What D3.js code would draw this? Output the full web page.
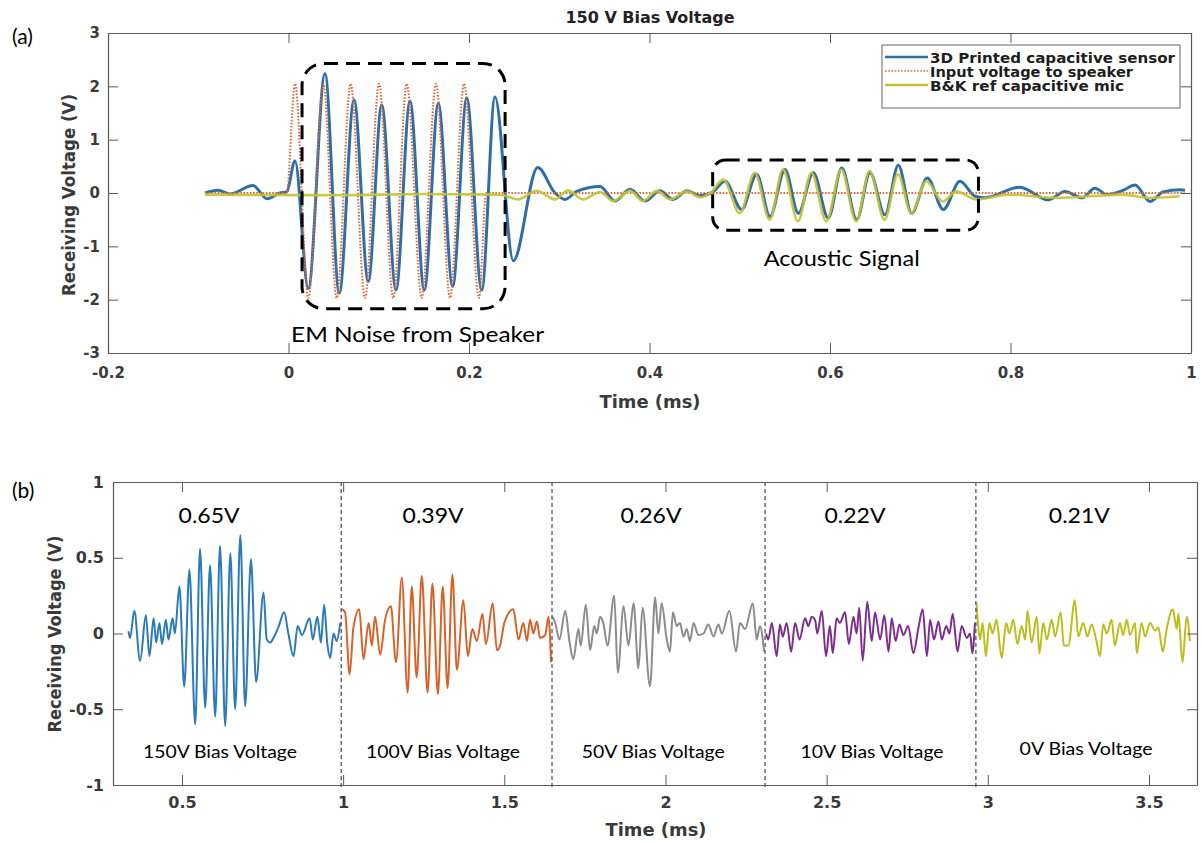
<!DOCTYPE html>
<html><head><meta charset="utf-8">
<script src="https://cdn.jsdelivr.net/npm/d3@7"></script>
<style>
body{margin:0;background:#fff;}
svg text{font-family:"DejaVu Sans",sans-serif;}
.ann{font-family:Lato,"Open Sans",sans-serif;fill:#000;}
</style></head><body>
<svg id="c" width="1202" height="843"></svg>
<script>
// ---------- DATA: panel (a) ----------
const titleA = "150 V Bias Voltage";
const xTicksA = [-0.2, 0, 0.2, 0.4, 0.6, 0.8, 1];
const xTickLabelsA = ["-0.2", "0", "0.2", "0.4", "0.6", "0.8", "1"];
const yTicksA = [-3, -2, -1, 0, 1, 2, 3];
const yTickLabelsA = ["-3", "-2", "-1", "0", "1", "2", "3"];
const seriesNamesA = ["3D Printed capacitive sensor", "Input voltage to speaker", "B&K ref capacitive mic"];

// [time (ms), voltage (V)]
const sensorA = [[-0.0925,0],[-0.078,0.05],[-0.065,-0.02],[-0.0393,0.14],[-0.0238,-0.11],[-0.0095,0],[-0.002,0.02],
 [0.0072,0.6],[0.0219,-1.79],[0.0404,2.24],[0.0563,-1.88],[0.0726,1.75],[0.0884,-1.66],[0.1033,1.65],[0.1191,-1.82],
 [0.1346,1.72],[0.1505,-1.82],[0.1660,1.68],[0.1819,-1.75],[0.1975,1.78],[0.2141,-1.82],[0.2288,1.80],[0.2491,-1.27],
 [0.2761,0.48],[0.2953,0.0],[0.3064,-0.12],[0.3193,0.03],[0.3452,0.12],[0.3618,-0.15],[0.3784,0.07],[0.3950,-0.15],
 [0.4116,0.04],[0.4260,-0.12],[0.4416,0.04],[0.456,-0.05],[0.470,0.02],[0.4837,0.22],[0.5021,-0.31],[0.5188,0.35],
 [0.5335,-0.44],[0.5501,0.44],[0.5649,-0.38],[0.5815,0.38],[0.5981,-0.47],[0.6130,0.47],[0.6296,-0.50],[0.6443,0.38],
 [0.6609,-0.41],[0.6757,0.52],[0.6905,-0.38],[0.7078,0.28],[0.7256,-0.31],[0.7440,0.22],[0.7607,-0.06],[0.7717,-0.09],
 [0.8105,0.11],[0.8416,-0.13],[0.8604,0.03],[0.8792,-0.09],[0.8936,0.09],[0.9069,-0.03],[0.9247,0.05],[0.9380,0.15],
 [0.9546,-0.16],[0.9690,0.02],[0.9879,0.06],[0.9934,0.05]];
const inputA = [[-0.0925,0],[-0.002,0],[0.0072,2.05],[0.0219,-1.97],[0.0386,2.05],[0.0534,-1.97],[0.0689,2.05],
 [0.0848,-1.97],[0.1003,2.05],[0.1161,-1.97],[0.1310,2.05],[0.1476,-1.97],[0.1634,2.05],[0.1790,-1.97],[0.1945,2.05],
 [0.2111,-1.97],[0.219,0],[0.993,0]];
const micA = [[-0.0925,-0.03],[0.05,-0.04],[0.15,-0.02],[0.234,-0.03],[0.2543,-0.12],[0.2753,0.04],[0.2953,-0.12],
 [0.3097,0.05],[0.3263,-0.12],[0.3452,0.02],[0.3596,-0.15],[0.3784,0.04],[0.3928,-0.15],[0.4083,0.04],[0.4227,-0.12],
 [0.4416,0.03],[0.456,-0.08],[0.4675,0.0],[0.4818,0.25],[0.5,-0.38],[0.5166,0.38],[0.5332,-0.50],[0.5479,0.44],
 [0.5645,-0.53],[0.5793,0.38],[0.5959,-0.53],[0.6125,0.44],[0.6291,-0.53],[0.6438,0.41],[0.6604,-0.50],[0.6752,0.35],
 [0.6900,-0.38],[0.7066,0.22],[0.7251,-0.16],[0.7399,0.03],[0.7620,-0.12],[0.7990,-0.03],[0.8507,-0.09],[0.9245,-0.03],
 [0.9541,-0.09],[0.9874,-0.06]];
// annotation boxes [t0, t1, vLow, vHigh] and labels [t, v, text]
const boxesA = [[0.015, 0.240, -2.17, 2.43], [0.470, 0.7645, -0.70, 0.62]];
const boxLabelsA = [[0.143, -2.80, "EM Noise from Speaker"], [0.613, -1.36, "Acoustic Signal"]];

// ---------- DATA: panel (b) ----------
const xTicksB = [0.5, 1, 1.5, 2, 2.5, 3, 3.5];
const xTickLabelsB = ["0.5", "1", "1.5", "2", "2.5", "3", "3.5"];
const yTicksB = [-1, -0.5, 0, 0.5, 1];
const yTickLabelsB = ["-1", "-0.5", "0", "0.5", "1"];
const biasLabelsB = ["150V Bias Voltage", "100V Bias Voltage", "50V Bias Voltage", "10V Bias Voltage", "0V Bias Voltage"];
const peakLabelsB = ["0.65V", "0.39V", "0.26V", "0.22V", "0.21V"];
const peakLabelTimesB = [0.584, 1.279, 1.955, 2.588, 3.284];
const biasLabelTimesB = [0.618, 1.310, 1.962, 2.641, 3.305];
const separatorsB = [0.994, 1.648, 2.309, 2.963];
const bias150 = [[0.334,0.015],[0.339,-0.03],[0.352,0.15],[0.370,-0.18],[0.388,0.12],[0.399,-0.15],[0.412,0.10],[0.420,-0.06],
 [0.430,0.07],[0.438,-0.07],[0.450,0.09],[0.458,-0.04],[0.471,0.10],[0.478,0.00],[0.492,0.31],[0.507,-0.35],[0.523,0.42],
 [0.541,-0.60],[0.556,0.56],[0.572,-0.49],[0.587,0.45],[0.603,-0.55],[0.618,0.58],[0.634,-0.61],[0.650,0.53],[0.665,-0.50],
 [0.681,0.65],[0.696,-0.48],[0.714,0.49],[0.730,-0.32],[0.753,0.27],[0.763,-0.04],[0.774,-0.06],[0.786,-0.02],[0.799,0.04],
 [0.817,0.14],[0.830,0.00],[0.846,-0.15],[0.859,0.05],[0.872,-0.01],[0.896,0.10],[0.906,-0.04],[0.920,0.11],[0.931,-0.06],
 [0.941,0.19],[0.951,-0.07],[0.960,-0.16],[0.970,0.00],[0.980,-0.05],[0.991,0.07]];
const bias100 = [[0.996,0.16],[1.006,0.14],[1.020,-0.27],[1.032,0.04],[1.050,0.16],[1.063,-0.17],[1.079,0.07],[1.089,-0.08],
 [1.099,0.11],[1.115,-0.14],[1.130,0.09],[1.148,0.18],[1.164,-0.19],[1.182,0.37],[1.200,-0.39],[1.213,0.31],[1.228,-0.29],
 [1.244,0.38],[1.262,-0.39],[1.277,0.33],[1.294,-0.40],[1.309,0.31],[1.324,-0.36],[1.339,0.39],[1.353,-0.24],[1.373,0.22],
 [1.387,-0.15],[1.401,0.03],[1.415,-0.05],[1.432,0.13],[1.443,-0.07],[1.464,0.20],[1.477,-0.11],[1.487,-0.08],[1.500,0.07],
 [1.528,0.16],[1.544,-0.04],[1.559,0.07],[1.570,-0.05],[1.580,0.09],[1.590,0.00],[1.601,0.08],[1.611,-0.03],[1.627,-0.01],
 [1.637,0.11],[1.645,-0.19]];
const bias50 = [[1.649,0.11],[1.658,0.07],[1.671,-0.04],[1.689,0.15],[1.702,-0.05],[1.714,-0.17],[1.730,0.03],[1.737,-0.08],
 [1.753,0.19],[1.766,-0.11],[1.779,0.05],[1.787,0.00],[1.797,0.11],[1.807,0.07],[1.820,-0.08],[1.841,0.25],[1.852,-0.26],
 [1.870,0.18],[1.885,-0.08],[1.901,0.20],[1.916,-0.23],[1.929,0.17],[1.952,-0.35],[1.968,0.24],[1.978,0.00],[1.988,0.20],
 [2.004,-0.04],[2.014,-0.12],[2.023,0.14],[2.035,0.05],[2.045,0.07],[2.056,-0.02],[2.066,0.03],[2.076,-0.05],[2.087,0.07],
 [2.102,-0.01],[2.118,0.00],[2.133,0.06],[2.149,-0.02],[2.164,0.06],[2.175,0.00],[2.198,0.15],[2.219,-0.12],[2.231,0.07],
 [2.247,0.03],[2.271,0.20],[2.283,-0.04],[2.293,0.05],[2.306,-0.12]];
const bias10 = [[2.312,0.00],[2.319,-0.04],[2.330,0.07],[2.345,-0.15],[2.355,0.06],[2.364,-0.02],[2.376,0.07],[2.390,-0.12],
 [2.402,0.07],[2.416,-0.04],[2.433,0.10],[2.443,0.05],[2.454,0.11],[2.464,0.09],[2.471,0.00],[2.485,0.15],[2.498,-0.15],
 [2.510,0.05],[2.519,-0.13],[2.531,0.10],[2.541,0.07],[2.557,0.14],[2.569,-0.07],[2.583,0.11],[2.593,0.00],[2.601,0.17],
 [2.612,-0.18],[2.626,0.21],[2.640,-0.05],[2.650,0.14],[2.666,-0.04],[2.679,0.12],[2.692,-0.12],[2.702,0.10],[2.714,-0.05],
 [2.726,0.06],[2.738,-0.01],[2.753,0.05],[2.769,-0.13],[2.785,0.04],[2.798,0.16],[2.811,-0.15],[2.821,0.09],[2.833,-0.04],
 [2.847,0.08],[2.857,-0.04],[2.871,0.05],[2.881,0.00],[2.891,0.13],[2.906,-0.12],[2.919,0.05],[2.935,-0.03],[2.945,0.00],
 [2.952,-0.13],[2.960,0.07]];
const bias0 = [[2.965,0.20],[2.970,0.05],[2.976,-0.04],[2.984,0.07],[2.994,-0.15],[3.005,0.07],[3.015,0.00],[3.027,0.09],
 [3.043,-0.16],[3.057,0.07],[3.067,0.00],[3.079,0.09],[3.092,-0.07],[3.105,0.05],[3.116,-0.04],[3.123,0.15],[3.136,-0.06],
 [3.152,0.11],[3.160,-0.13],[3.172,0.07],[3.183,-0.04],[3.198,0.09],[3.209,-0.02],[3.226,0.14],[3.236,-0.08],[3.250,-0.08],
 [3.270,0.22],[3.281,-0.02],[3.296,0.07],[3.309,-0.02],[3.322,0.06],[3.336,-0.04],[3.348,-0.15],[3.358,0.06],[3.369,0.00],
 [3.384,0.09],[3.394,-0.08],[3.410,0.07],[3.420,-0.01],[3.431,0.09],[3.441,-0.01],[3.457,0.07],[3.462,-0.13],[3.477,0.07],
 [3.488,-0.02],[3.503,0.07],[3.519,0.02],[3.529,0.04],[3.543,-0.12],[3.555,0.03],[3.574,0.16],[3.586,0.03],[3.591,0.13],
 [3.604,-0.19],[3.617,0.11],[3.627,-0.05]];

// ---------- DRAWING ----------
const svg = d3.select("#c");
const axisCol = "#595959", labCol = "#3a3a3a";

function frame(g, x, y, xt, xl, yt, yl, fs, xpad, ypad) {
  const [x0, x1] = x.range(), [y0, y1] = y.range();
  const mk = (sel) => sel.call(s => { s.selectAll("path,line").attr("stroke", axisCol); s.selectAll("text").attr("fill", labCol).attr("font-weight","bold").attr("font-size", fs).attr("font-family","DejaVu Sans"); });
  g.append("g").attr("transform", `translate(0,${y0})`)
    .call(d3.axisBottom(x).tickValues(xt).tickFormat((d,i)=>xl[i]).tickSize(-10).tickSizeOuter(0).tickPadding(xpad)).call(mk);
  g.append("g").attr("transform", `translate(0,${y1})`)
    .call(d3.axisTop(x).tickValues(xt).tickFormat("").tickSize(-10).tickSizeOuter(0)).call(mk);
  g.append("g").attr("transform", `translate(${x0},0)`)
    .call(d3.axisLeft(y).tickValues(yt).tickFormat((d,i)=>yl[i]).tickSize(-10).tickSizeOuter(0).tickPadding(ypad)).call(mk);
  g.append("g").attr("transform", `translate(${x1},0)`)
    .call(d3.axisRight(y).tickValues(yt).tickFormat("").tickSize(-10).tickSizeOuter(0)).call(mk);
  g.selectAll(".domain").attr("stroke-width", 1.2);
}

// ---- Panel (a)
const xA = d3.scaleLinear().domain([-0.2, 1]).range([108, 1191]);
const yA = d3.scaleLinear().domain([-3, 3]).range([353, 33]);
const gA = svg.append("g");
const lineA = d3.line().x(d=>xA(d[0])).y(d=>yA(d[1])).curve(d3.curveMonotoneX);
const colSensor = "#2f6fa6", colInput = "#d9693c", colMic = "#c3c234";
gA.append("path").datum(sensorA).attr("d", lineA).attr("fill","none").attr("stroke", colSensor).attr("stroke-width", 3);
gA.append("path").datum(inputA).attr("d", lineA).attr("fill","none").attr("stroke", colInput).attr("stroke-width", 2).attr("stroke-dasharray","1.6,1.6");
gA.append("path").datum(micA).attr("d", lineA).attr("fill","none").attr("stroke", colMic).attr("stroke-width", 2.6).attr("stroke-opacity", 0.9);
frame(gA, xA, yA, xTicksA, xTickLabelsA, yTicksA, yTickLabelsA, 15, 14, 8);

// dashed annotation boxes
boxesA.forEach((b, i) => {
  gA.append("rect").attr("x", xA(b[0])).attr("y", yA(b[3])).attr("width", xA(b[1]) - xA(b[0])).attr("height", yA(b[2]) - yA(b[3]))
    .attr("rx", i === 0 ? 22 : 13).attr("fill", "none").attr("stroke", "#000").attr("stroke-width", 3).attr("stroke-dasharray", "14,8");
});
const boxLabelWidths = [253, 156];
boxLabelsA.forEach((b, i) => {
  gA.append("text").attr("class","ann").attr("x", xA(b[0])).attr("y", yA(b[1])).attr("text-anchor","middle")
    .attr("font-size", 22).attr("textLength", boxLabelWidths[i]).attr("lengthAdjust","spacingAndGlyphs").text(b[2]);
});

// title and axis titles
svg.append("text").attr("x", 650).attr("y", 23).attr("text-anchor","middle").attr("font-weight","bold").attr("font-size", 16)
  .attr("fill","#222").attr("textLength", 169).attr("lengthAdjust","spacingAndGlyphs").text(titleA);
svg.append("text").attr("x", 650).attr("y", 408).attr("text-anchor","middle").attr("font-weight","bold").attr("font-size", 17)
  .attr("fill", labCol).attr("textLength", 101).attr("lengthAdjust","spacingAndGlyphs").text("Time (ms)");
svg.append("text").attr("transform","translate(75,195) rotate(-90)").attr("text-anchor","middle").attr("font-weight","bold").attr("font-size", 18)
  .attr("fill", labCol).attr("textLength", 202).attr("lengthAdjust","spacingAndGlyphs").text("Receiving Voltage (V)");
svg.append("text").attr("class","ann").attr("x", 12).attr("y", 44).attr("font-size", 21).text("(a)");

// legend
const lg = svg.append("g");
lg.append("rect").attr("x", 882).attr("y", 45).attr("width", 298).attr("height", 63).attr("fill","#fff").attr("stroke","#666").attr("stroke-width",1);
const legCols = [colSensor, colInput, colMic], legW = [245, 203, 194];
seriesNamesA.forEach((n, i) => {
  const yy = 57 + i * 14;
  lg.append("line").attr("x1", 885).attr("x2", 928).attr("y1", yy).attr("y2", yy).attr("stroke", legCols[i])
    .attr("stroke-width", i === 1 ? 1.6 : 2.5).attr("stroke-dasharray", i === 1 ? "1.6,1.6" : null);
  lg.append("text").attr("x", 930).attr("y", yy + 5.5).attr("font-weight","bold").attr("font-size", 14.5).attr("fill","#1e1e1e")
    .attr("textLength", legW[i]).attr("lengthAdjust","spacingAndGlyphs").text(n);
});

// ---- Panel (b)
const xB = d3.scaleLinear().domain([0.286, 3.649]).range([113, 1197]);
const yB = d3.scaleLinear().domain([-1, 1]).range([785, 482]);
const gB = svg.append("g");
const lineB = d3.line().x(d=>xB(d[0])).y(d=>yB(d[1])).curve(d3.curveMonotoneX);
const segs = [bias150, bias100, bias50, bias10, bias0];
const segCols = ["#2b7bb9", "#d9622b", "#8c8c8c", "#7e2f8e", "#bdbd1e"];
segs.forEach((s, i) => gB.append("path").datum(s).attr("d", lineB).attr("fill","none").attr("stroke", segCols[i]).attr("stroke-width", 2));
separatorsB.forEach(t => gB.append("line").attr("x1", xB(t)).attr("x2", xB(t)).attr("y1", yB(1)).attr("y2", yB(-1) + 3)
  .attr("stroke", "#555").attr("stroke-width", 1.3).attr("stroke-dasharray", "4,3"));
frame(gB, xB, yB, xTicksB, xTickLabelsB, yTicksB, yTickLabelsB, 16, 12, 9);
const peakW = 61, biasW = [154, 154, 143, 143, 133];
peakLabelsB.forEach((t, i) => gB.append("text").attr("class","ann").attr("x", xB(peakLabelTimesB[i])).attr("y", 523)
  .attr("text-anchor","middle").attr("font-size", 22).attr("textLength", peakW).attr("lengthAdjust","spacingAndGlyphs").text(t));
biasLabelsB.forEach((t, i) => gB.append("text").attr("class","ann").attr("x", xB(biasLabelTimesB[i])).attr("y", i === 4 ? 755 : 758)
  .attr("text-anchor","middle").attr("font-size", 18).attr("textLength", biasW[i]).attr("lengthAdjust","spacingAndGlyphs").text(t));
svg.append("text").attr("x", 656).attr("y", 836).attr("text-anchor","middle").attr("font-weight","bold").attr("font-size", 17)
  .attr("fill", labCol).attr("textLength", 101).attr("lengthAdjust","spacingAndGlyphs").text("Time (ms)");
svg.append("text").attr("transform","translate(61,634) rotate(-90)").attr("text-anchor","middle").attr("font-weight","bold").attr("font-size", 18)
  .attr("fill", labCol).attr("textLength", 197).attr("lengthAdjust","spacingAndGlyphs").text("Receiving Voltage (V)");
svg.append("text").attr("class","ann").attr("x", 12).attr("y", 498).attr("font-size", 21).text("(b)");
</script>
</body></html>
